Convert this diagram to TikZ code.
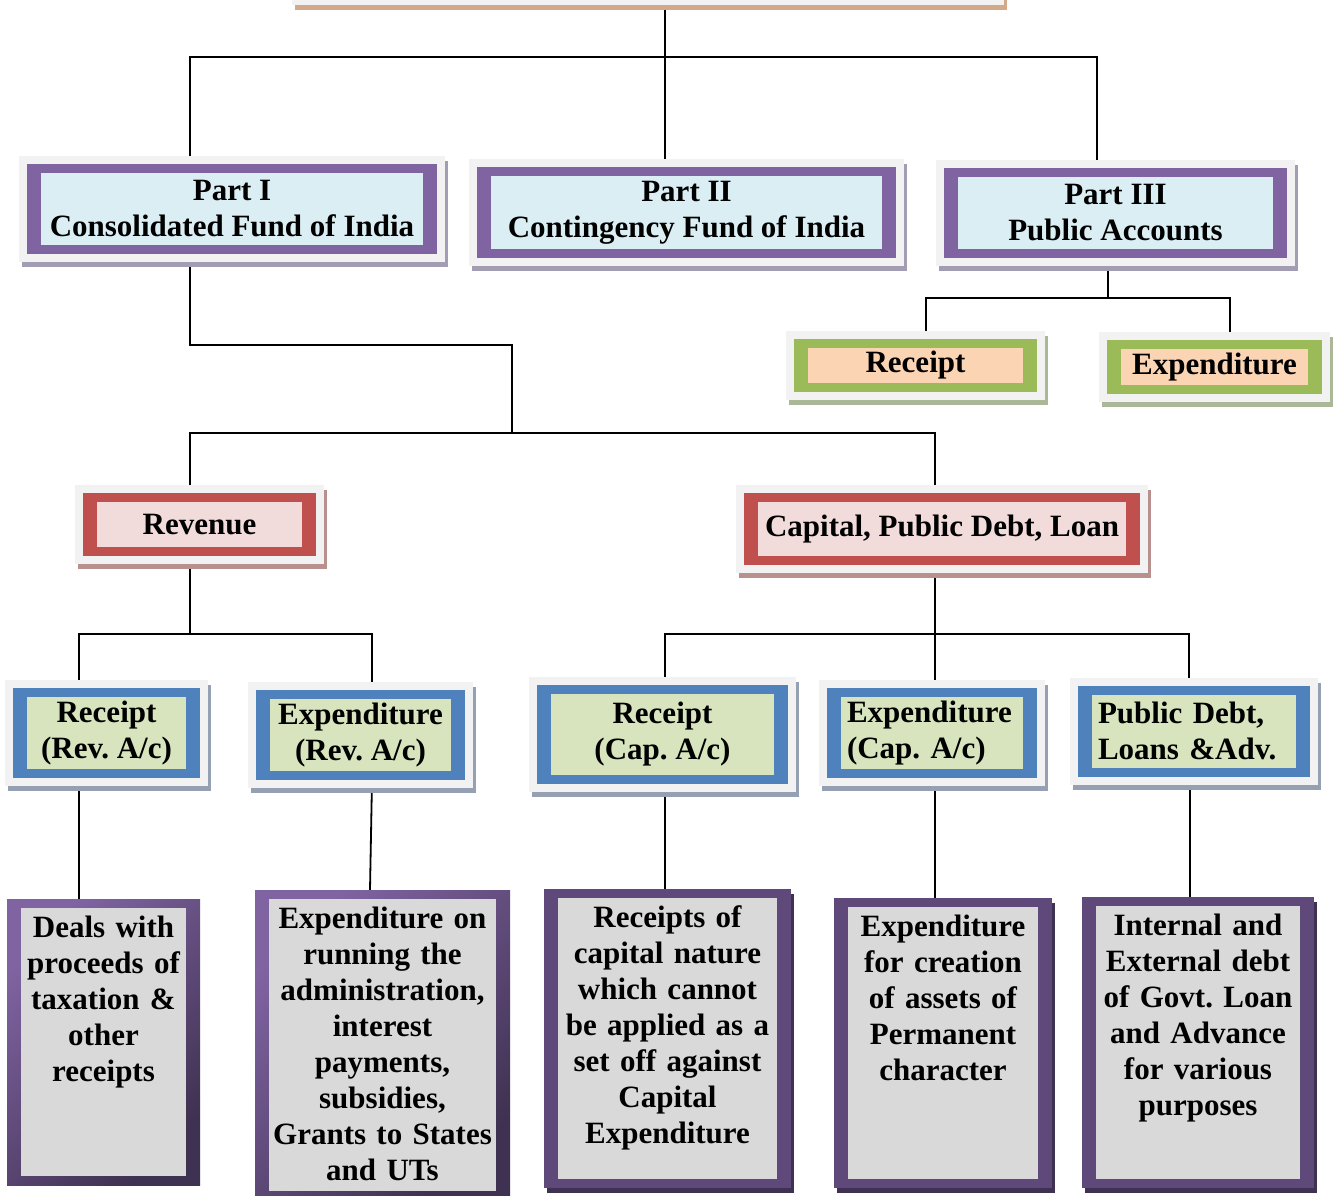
\documentclass[tikz,border=0pt]{standalone}
\usepackage{fontspec}
\setmainfont{Liberation Serif}
\usetikzlibrary{positioning,backgrounds}
\frenchspacing

\definecolor{framegray}{HTML}{F2F2F2}
\definecolor{partband}{HTML}{8064A2}
\definecolor{partfill}{HTML}{DAEEF3}
\definecolor{partshade}{HTML}{A39DB3}
\definecolor{pubband}{HTML}{9BBB59}
\definecolor{pubfill}{HTML}{FBD4B4}
\definecolor{pubshade}{HTML}{ABB897}
\definecolor{headband}{HTML}{C0504D}
\definecolor{headfill}{HTML}{F2DCDB}
\definecolor{headshade}{HTML}{B8918F}
\definecolor{subband}{HTML}{4F81BD}
\definecolor{subfill}{HTML}{D7E4BD}
\definecolor{subshade}{HTML}{95A0B2}
\definecolor{noteband}{HTML}{5F497A}
\definecolor{notelight}{HTML}{8064A2}
\definecolor{notedark}{HTML}{3F3151}
\definecolor{notefill}{HTML}{D9D9D9}
\definecolor{rootband}{HTML}{F79646}
\definecolor{rootfill}{HTML}{FDE9D9}
\definecolor{rootshade}{HTML}{D4A98A}

\begin{document}
\begin{tikzpicture}[
        x=1pt, y=-1pt,
        % Estilo común: banda de color, relleno interior, marco claro y sombra
        panel/.style n args={3}{draw=none, fill=#1, inner sep=0pt, align=center,
            font=\bfseries\fontsize{31}{36}\selectfont,
            preaction={fill=#3, draw=#3, line width=16pt, transform canvas={shift={(3pt,-5pt)}}},
            preaction={fill=framegray, draw=framegray, line width=16pt},
            path picture={\fill[#2] ([shift={(14pt,-9pt)}]path picture bounding box.north west)
                rectangle ([shift={(-14pt,9pt)}]path picture bounding box.south east);}},
        % Estilos de cada nivel
        root/.style={panel={rootband}{rootfill}{rootshade}},
        part/.style={panel={partband}{partfill}{partshade}},
        pub/.style={panel={pubband}{pubfill}{pubshade}},
        head/.style={panel={headband}{headfill}{headshade}},
        sub/.style={panel={subband}{subfill}{subshade}},
        % Estilos de las cajas de notas (abajo)
        note/.style={draw=none, fill=noteband, inner sep=0pt,
            preaction={fill=notedark, transform canvas={shift={(3pt,-5pt)}}},
            path picture={\fill[notefill] ([shift={(14pt,-9pt)}]path picture bounding box.north west)
                rectangle ([shift={(-14pt,9pt)}]path picture bounding box.south east);}},
        shadenote/.style={draw=none, inner sep=0pt, top color=notelight, bottom color=notedark, shading angle=45,
            path picture={\fill[notefill] ([shift={(14pt,-9pt)}]path picture bounding box.north west)
                rectangle ([shift={(-14pt,9pt)}]path picture bounding box.south east);}},
        notetext/.style={inner sep=0pt, align=center, text width=#1,
            font=\bfseries\fontsize{31}{36}\selectfont},
        % Estilo para las líneas
        link/.style={draw=black, line width=1.8pt}
    ]
        \useasboundingbox (0,0) rectangle (1333,1195);

        % --- Caja raíz (cortada por el borde superior) ---
        \node[root, minimum width=696pt, minimum height=74pt] (top) at (648,-40) {};

        % --- Primer nivel: las tres partes ---
        \node[part, minimum width=410pt, minimum height=90pt] (partI) at (232,209) {Part I\\Consolidated Fund of India};
        \node[part, minimum width=419pt, minimum height=91pt] (partII) at (686.5,212.5) {Part II\\Contingency Fund of India};
        \node[part, minimum width=343pt, minimum height=90pt] (partIII) at (1115.5,213) {Part III\\Public Accounts};

        % --- Cuentas públicas ---
        \node[pub, minimum width=243pt, minimum height=53pt] (paRec) at (915.5,365.5) {Receipt};
        \node[pub, minimum width=215pt, minimum height=54pt] (paExp) at (1214.5,367) {Expenditure};

        % --- Fondo consolidado: ingresos y capital ---
        \node[head, minimum width=233pt, minimum height=63pt] (revenue) at (199.5,524.5) {Revenue};
        \node[head, minimum width=396pt, minimum height=72pt] (capital) at (942,529) {Capital, Public Debt, Loan};

        % --- Cuentas ---
        \node[sub, minimum width=187pt, minimum height=90pt] (recRev) at (106.5,733) {Receipt\\(Rev. A/c)};
        \node[sub, minimum width=209pt, minimum height=90pt] (expRev) at (360.5,735) {Expenditure\\(Rev. A/c)};
        \node[sub, minimum width=251pt, minimum height=99pt] (recCap) at (662.5,734.5) {Receipt\\(Cap. A/c)};
        \node[sub, minimum width=210pt, minimum height=90pt, text width=170pt, align=left] (expCap) at (932,733) {Expenditure\\(Cap. A/c)};
        \node[sub, minimum width=232pt, minimum height=91pt, text width=192pt, align=left] (pubDebt) at (1194,731) {Public Debt,\\Loans \&Adv.};

        % --- Notas ---
        \node[shadenote, minimum width=193pt, minimum height=286pt] (deals) at (103.5,1042) {};
        \node[notetext=164pt, below=17pt of deals.north] (dealsTxt) {Deals with\\proceeds of\\taxation \&\\other\\receipts};

        \node[shadenote, minimum width=255pt, minimum height=310pt] (expRun) at (382.5,1045) {};
        \node[notetext=226pt, below=17pt of expRun.north] (expRunTxt) {Expenditure on\\running the\\administration,\\interest\\payments,\\subsidies,\\Grants to States\\and UTs};

        \node[note, minimum width=247pt, minimum height=299pt] (recNote) at (667.5,1038.5) {};
        \node[notetext=218pt, below=17pt of recNote.north] (recNoteTxt) {Receipts of\\capital nature\\which cannot\\be applied as a\\set off against\\Capital\\Expenditure};

        \node[note, minimum width=218pt, minimum height=290pt] (expNote) at (943,1043) {};
        \node[notetext=189pt, below=17pt of expNote.north] (expNoteTxt) {Expenditure\\for creation\\of assets of\\Permanent\\character};

        \node[note, minimum width=232pt, minimum height=291pt] (debtNote) at (1198,1042.5) {};
        \node[notetext=202pt, below=17pt of debtNote.north] (debtNoteTxt) {Internal and\\External debt\\of Govt. Loan\\and Advance\\for various\\purposes};

        % --- Puntos de unión de las líneas ---
        \coordinate (bTop) at (665,57);
        \coordinate (bMid) at (512,345);
        \coordinate (bSplit) at (512,433);
        \coordinate (bPub) at (1108,298);
        \coordinate (bRev) at (190,634);
        \coordinate (bCap) at (935,634);

        % --- Conectores (detrás de las cajas) ---
        \begin{scope}[on background layer]
            \draw[link] (top.south -| bTop) -- (partII.north -| bTop);
            \draw[link] (partI.north -| 190,0) |- (bTop) -| (partIII.north -| 1097,0);
            \draw[link] (partI.south -| 190,0) |- (bMid) -- (bSplit);
            \draw[link] (revenue.north -| 190,0) |- (bSplit) -| (capital.north -| bCap);
            \draw[link] (partIII.south -| bPub) -- (bPub);
            \draw[link] (paRec.north -| 926,0) |- (bPub) -| (paExp.north -| 1230,0);
            \draw[link] (revenue.south -| bRev) -- (bRev);
            \draw[link] (recRev.north -| 79,0) |- (bRev) -| (expRev.north -| 372,0);
            \draw[link] (capital.south -| bCap) -- (expCap.north -| bCap);
            \draw[link] (recCap.north -| 665,0) |- (bCap) -| (pubDebt.north -| 1189,0);
            \draw[link] (recRev.south -| 79,0) -- (deals.north -| 79,0);
            \draw[link] (expRev.south -| 372,0) -- (expRun.north -| 370,0);
            \draw[link] (recCap.south -| 665,0) -- (recNote.north -| 665,0);
            \draw[link] (expCap.south -| bCap) -- (expNote.north -| bCap);
            \draw[link] (pubDebt.south -| 1190,0) -- (debtNote.north -| 1190,0);
        \end{scope}
    \end{tikzpicture}
\end{document}
